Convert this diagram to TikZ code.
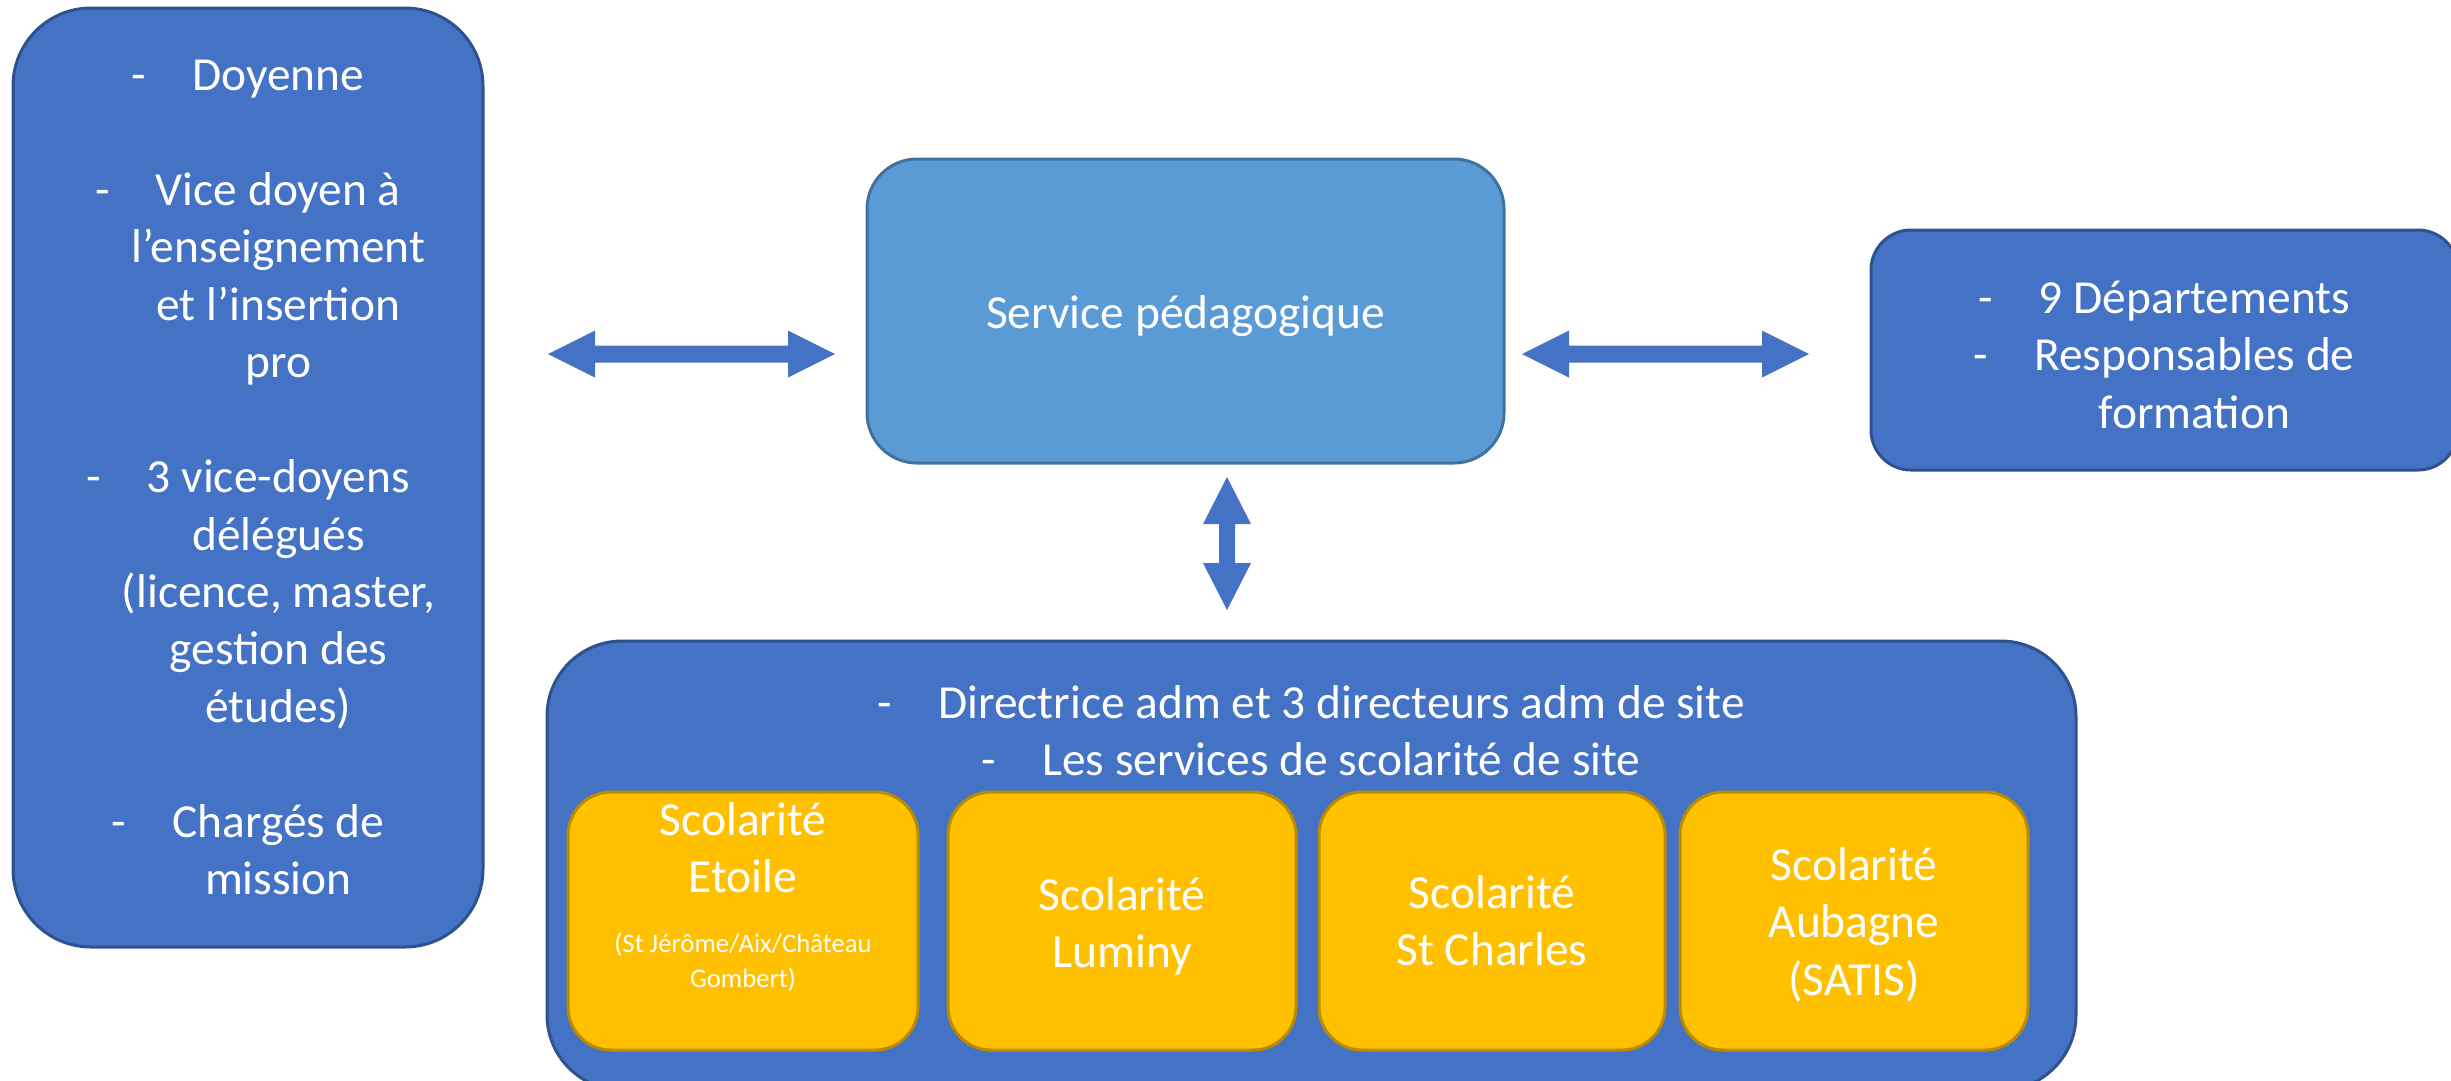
\documentclass[tikz,border=0pt]{standalone}
\usepackage{fontspec}
\setmainfont{Carlito}
\definecolor{boxblue}{HTML}{4472C4}
\definecolor{boxblueline}{HTML}{2F528F}
\definecolor{servblue}{HTML}{5B9BD5}
\definecolor{servline}{HTML}{41719C}
\definecolor{yel}{HTML}{FFC000}
\definecolor{yelline}{HTML}{BC8C00}
\newcommand\bigtxt{\fontsize{13.5}{16.36}\selectfont}
\newcommand\smalltxt{\fontsize{7.6}{9.96}\selectfont}
\newcommand\dsh{\makebox[17.3pt][l]{-}}
\newcommand\cnt{\hspace*{17.3pt}}
\begin{document}
\begin{tikzpicture}[x=0.1mm,y=-0.1mm,
  bluebox/.style={draw=boxblueline, fill=boxblue, line width=0.3mm, inner sep=0pt, rectangle},
  servbox/.style={draw=servline, fill=servblue, line width=0.3mm, inner sep=0pt, rectangle, rounded corners=5mm},
  yelbox/.style={draw=yelline, fill=yel, line width=0.3mm, inner sep=0pt, rectangle, rounded corners=4.3mm, minimum height=25.8mm},
  txt/.style={text=white, inner sep=0pt, anchor=base, font=\bigtxt},
  stxt/.style={text=white, inner sep=0pt, anchor=base, font=\smalltxt},
  blockarrow/.style={fill=boxblue, draw=none}]
\useasboundingbox (0,0) rectangle (2451,1080);
\clip (0,0) rectangle (2451,1080);

% boxes
\node[bluebox, rounded corners=7.8mm, minimum width=47mm, minimum height=93.9mm] (left) at (248,477.5) {};
\node[servbox, minimum width=63.7mm, minimum height=30.4mm] (serv) at (1185.5,311) {};
\node[bluebox, rounded corners=4mm, minimum width=58.7mm, minimum height=24mm] (right) at (2164.5,350) {};
\node[bluebox, rounded corners=7.5mm, minimum width=152.9mm, minimum height=44.9mm] (bottom) at (1311.5,865.5) {};
\node[yelbox, minimum width=35mm] (y1) at (743,921) {};
\node[yelbox, minimum width=34.8mm] (y2) at (1122,921) {};
\node[yelbox, minimum width=34.6mm] (y3) at (1492,921) {};
\node[yelbox, minimum width=34.8mm] (y4) at (1854,921) {};

% arrows
\coordinate (a1l) at (548,354);
\coordinate (a1r) at (835,354);
\coordinate (a2l) at (1522,354);
\coordinate (a2r) at (1809,354);
\coordinate (a3t) at (1227,477);
\coordinate (a3b) at (1227,610);
\fill[blockarrow] (a1l) -- ++(47,-23.5) -- ++(0,15) -- ++(193,0) -- ++(0,-15) -- (a1r)
  -- ++(-47,23.5) -- ++(0,-15) -- ++(-193,0) -- ++(0,15) -- cycle;
\fill[blockarrow] (a2l) -- ++(47,-23.5) -- ++(0,15) -- ++(193,0) -- ++(0,-15) -- (a2r)
  -- ++(-47,23.5) -- ++(0,-15) -- ++(-193,0) -- ++(0,15) -- cycle;
\fill[blockarrow] (a3t) -- ++(24,47) -- ++(-16,0) -- ++(0,39) -- ++(16,0) -- (a3b)
  -- ++(-24,-47) -- ++(16,0) -- ++(0,-39) -- ++(-16,0) -- cycle;

% texts
\node[txt] (tleft) at (248,90) {\begin{tabular}[t]{@{}c@{}}
\dsh Doyenne\\
\\
\dsh Vice doyen à\\
\cnt l’enseignement\\
\cnt et l’insertion\\
\cnt pro\\
\\
\dsh 3 vice-doyens\\
\cnt délégués\\
\cnt (licence, master,\\
\cnt gestion des\\
\cnt études)\\
\\
\dsh Chargés de\\
\cnt mission
\end{tabular}};

\node[txt] (tserv) at (1185.5,328) {Service pédagogique};

\node[txt] (tright) at (2164,313) {\begin{tabular}[t]{@{}c@{}}
\dsh 9 Départements\\
\dsh Responsables de\\
\cnt formation
\end{tabular}};

\node[txt] (tbottom) at (1311,718) {\begin{tabular}[t]{@{}c@{}}
\dsh Directrice adm et 3 directeurs adm de site\\
\dsh Les services de scolarité de site
\end{tabular}};

\node[txt] (ty1) at (743,835) {\begin{tabular}[t]{@{}c@{}}Scolarité\\Etoile\end{tabular}};
\node[stxt] (ty1s) at (743,952) {\begin{tabular}[t]{@{}c@{}}(St Jérôme/Aix/Château\\Gombert)\end{tabular}};
\node[txt] (ty2) at (1122,910) {\begin{tabular}[t]{@{}c@{}}Scolarité\\Luminy\end{tabular}};
\node[txt] (ty3) at (1492,908) {\begin{tabular}[t]{@{}c@{}}Scolarité\\St Charles\end{tabular}};
\node[txt] (ty4) at (1854,880) {\begin{tabular}[t]{@{}c@{}}Scolarité\\Aubagne\\(SATIS)\end{tabular}};
\end{tikzpicture}
\end{document}
